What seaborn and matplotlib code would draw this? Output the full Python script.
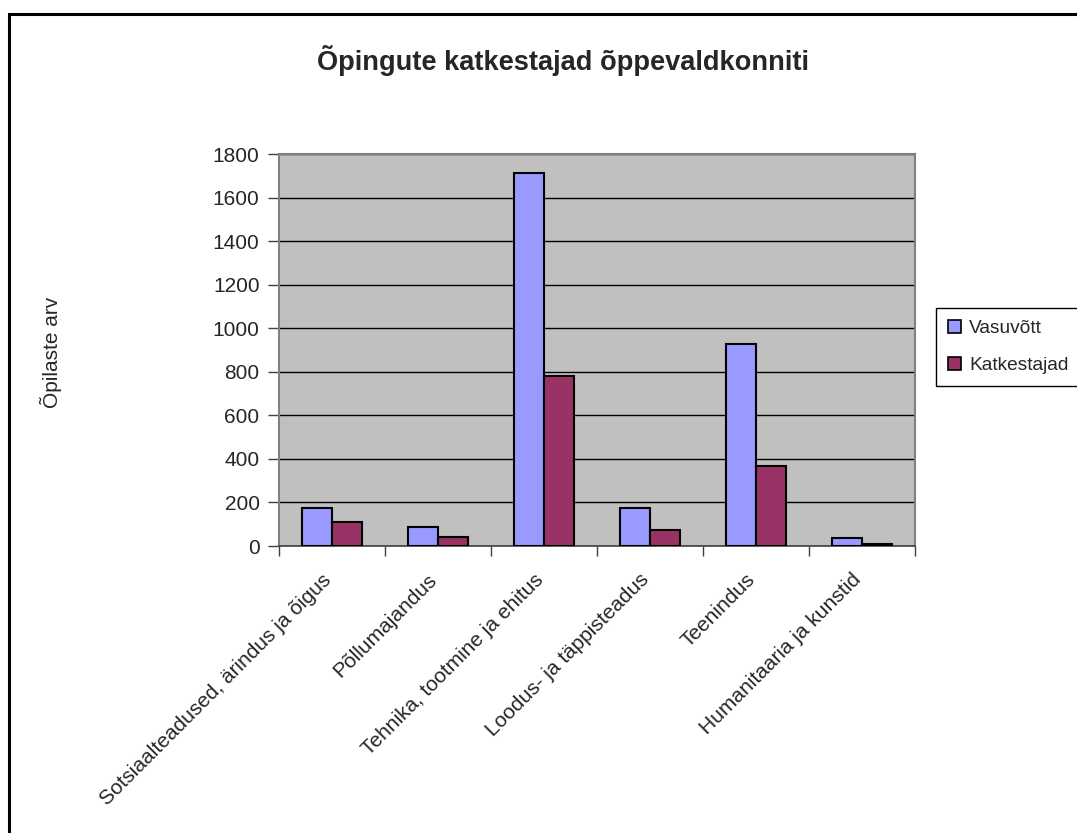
import matplotlib
matplotlib.use("Agg")
import matplotlib.pyplot as plt
import matplotlib.patches as mpatches
from matplotlib.ticker import FixedLocator
import seaborn as sns
import pandas as pd

categories = [
    "Sotsiaalteadused, ärindus ja õigus",
    "Põllumajandus",
    "Tehnika, tootmine ja ehitus",
    "Loodus- ja täppisteadus",
    "Teenindus",
    "Humanitaaria ja kunstid",
]
series_names = ["Vasuvõtt", "Katkestajad"]
vasuvott = [175, 88, 1712, 175, 929, 35]
katkestajad = [110, 42, 780, 74, 369, 9]
y_ticks = [0, 200, 400, 600, 800, 1000, 1200, 1400, 1600, 1800]

title = "Õpingute katkestajad õppevaldkonniti"
y_label = "Õpilaste arv"

rows = []
for c, v, k in zip(categories, vasuvott, katkestajad):
    rows.append({"cat": c, "series": series_names[0], "value": v})
    rows.append({"cat": c, "series": series_names[1], "value": k})
df = pd.DataFrame(rows)

sns.set_theme(style="white")
plt.rcParams["font.family"] = ["Liberation Sans", "DejaVu Sans"]

W, H = 1077, 833
fig = plt.figure(figsize=(W / 100, H / 100), dpi=100)
fig.patch.set_facecolor("white")
ax = fig.add_axes([279 / W, 1 - 546 / H, (915 - 279) / W, (546 - 154) / H])
ax.set_facecolor("#C0C0C0")

sns.barplot(
    data=df, x="cat", y="value", hue="series",
    palette=["#9999FF", "#993366"], saturation=1, width=0.566,
    edgecolor="black", linewidth=1.5, errorbar=None, ax=ax,
    order=categories, hue_order=series_names, zorder=3,
)

FS = 15
ax.set_xlim(-0.5, len(categories) - 0.5)
ax.set_ylim(0, 1800)
ax.set_yticks(y_ticks)
ax.set_yticklabels([str(t) for t in y_ticks], fontsize=FS)
ax.yaxis.grid(True, color="black", linewidth=1)
ax.set_axisbelow(True)

ax.set_xticks(range(len(categories)))
ax.set_xticklabels(categories, rotation=45, ha="right", va="baseline",
                   rotation_mode="anchor", fontsize=FS)
ax.xaxis.set_minor_locator(FixedLocator([i - 0.5 for i in range(len(categories) + 1)]))
ax.tick_params(axis="x", which="major", length=0, pad=25)
ax.tick_params(axis="x", which="minor", length=7, width=1, color="#404040", direction="out", bottom=True)
ax.tick_params(axis="y", which="major", length=8, width=1, color="#404040", direction="out", left=True, pad=6)

for s in ["left", "top", "right"]:
    ax.spines[s].set_color("#808080")
    ax.spines[s].set_linewidth(1.5)
ax.spines["bottom"].set_color("#404040")
ax.spines["bottom"].set_linewidth(1.2)

ax.set_xlabel("")
ax.set_ylabel("")
fig.text(51 / W, 1 - 352 / H, y_label, rotation=90, ha="center", va="center", fontsize=FS)
fig.text(563 / W, 1 - 60 / H, title, ha="center", va="center", fontsize=19.6, fontweight="bold")

leg = ax.legend(
    loc="upper left", bbox_to_anchor=(936 / W, 1 - 308 / H), bbox_transform=fig.transFigure,
    fontsize=13.8, frameon=True, fancybox=False, edgecolor="black", framealpha=1,
    handlelength=0.68, handleheight=0.68, handletextpad=0.45, borderpad=0.6, labelspacing=1.05,
    borderaxespad=0,
)
leg.get_frame().set_linewidth(1)
for p in leg.get_patches():
    p.set_edgecolor("black")
    p.set_linewidth(1.2)

fig.add_artist(mpatches.Rectangle((9 / W, -0.05), 1.2, 1 - 14 / H + 0.05,
                                  transform=fig.transFigure, fill=False,
                                  edgecolor="black", linewidth=2.2))

fig.savefig("out.png", dpi=100)
